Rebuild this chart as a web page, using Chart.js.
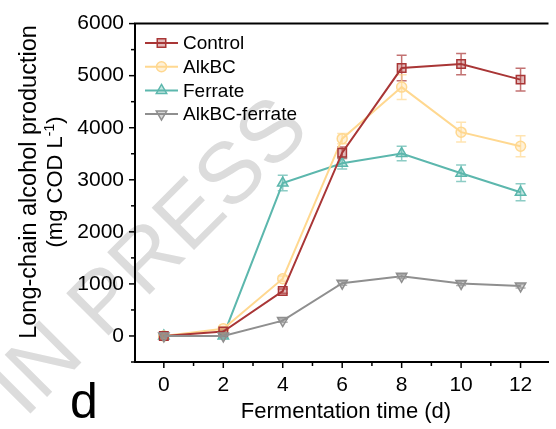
<!DOCTYPE html>
<html>
<head>
<meta charset="utf-8">
<script src="https://cdn.jsdelivr.net/npm/chart.js@4.4.0/dist/chart.umd.min.js"></script>
<style>
  html, body { margin: 0; padding: 0; background: #fff; }
  #wrap { width: 556px; height: 429px; position: relative; }
</style>
</head>
<body>
<div id="wrap"><canvas id="chart"></canvas></div>
<script>
// ===== data =====
const days = [0, 2, 4, 6, 8, 10, 12];
const xTickValues = [0, 2, 4, 6, 8, 10, 12];
const yTickValues = [0, 1000, 2000, 3000, 4000, 5000, 6000];

const seriesNames = ['Control', 'AlkBC', 'Ferrate', 'AlkBC-ferrate'];
const control = [0, 85, 862, 3520, 5146, 5222, 4924];
const controlErr = [20, 30, 40, 110, 246, 205, 220];
const alkbc = [0, 140, 1100, 3790, 4780, 3915, 3644];
const alkbcErr = [20, 30, 50, 100, 237, 190, 200];
const ferrate = [0, 0, 2937, 3317, 3504, 3125, 2760];
const ferrateErr = [20, 20, 150, 110, 140, 160, 165];
const alkbcFerrate = [0, 0, 295, 1013, 1145, 1010, 960];
const alkbcFerrateErr = [20, 20, 30, 40, 40, 40, 40];

const FONT = "'Liberation Sans', Arial, sans-serif";

function rgba(hex, a) {
  const n = parseInt(hex.slice(1), 16);
  return `rgba(${n >> 16},${(n >> 8) & 255},${n & 255},${a})`;
}

const styles = [
  { color: '#a93636', pointStyle: 'rect', radius: 6, rotation: 0, order: 1 },
  { color: '#ffd890', pointStyle: 'circle', radius: 5, rotation: 0, order: 2 },
  { color: '#5cb7ad', pointStyle: 'triangle', radius: 6, rotation: 0, order: 3 },
  { color: '#8f8f8f', pointStyle: 'triangle', radius: 6, rotation: 180, order: 0 },
];
const values = [control, alkbc, ferrate, alkbcFerrate];
const errors = [controlErr, alkbcErr, ferrateErr, alkbcFerrateErr];

const datasets = seriesNames.map((name, i) => {
  const s = styles[i];
  return {
    label: name,
    data: days.map((d, j) => ({ x: d, y: values[i][j] })),
    errors: errors[i],
    order: s.order,
    borderColor: s.color,
    backgroundColor: rgba(s.color, 0.35),
    borderWidth: 2,
    pointStyle: s.pointStyle,
    pointRadius: s.radius,
    pointRotation: s.rotation,
    pointBorderWidth: 1.5,
    pointBorderColor: s.color,
    pointBackgroundColor: rgba(s.color, 0.35),
    tension: 0,
    fill: false,
  };
});

// background watermark
const watermark = {
  id: 'watermark',
  beforeDraw(chart) {
    const ctx = chart.ctx;
    ctx.save();
    ctx.translate(312, 132);
    ctx.rotate(-Math.PI / 4);
    ctx.font = `87px ${FONT}`;
    ctx.fillStyle = '#dcdcdc';
    ctx.textAlign = 'right';
    ctx.textBaseline = 'alphabetic';
    ctx.fillText('ARTICLE IN PRESS', 0, 0);
    ctx.restore();
  }
};

// error bars under the markers
const errorBars = {
  id: 'errorBars',
  beforeDatasetsDraw(chart) {
    const { ctx, scales: { x, y } } = chart;
    ctx.save();
    chart.data.datasets.forEach((ds) => {
      ctx.strokeStyle = rgba(ds.borderColor, 0.7);
      ctx.lineWidth = 1.5;
      ds.data.forEach((p, j) => {
        const e = ds.errors[j];
        const px = x.getPixelForValue(p.x);
        const top = y.getPixelForValue(p.y + e);
        const bot = y.getPixelForValue(p.y - e);
        ctx.beginPath();
        ctx.moveTo(px, top); ctx.lineTo(px, bot);
        ctx.moveTo(px - 5, top); ctx.lineTo(px + 5, top);
        ctx.moveTo(px - 5, bot); ctx.lineTo(px + 5, bot);
        ctx.stroke();
      });
    });
    ctx.restore();
  }
};

// ticks, frame top, titles, legend, panel letter
const decorations = {
  id: 'decorations',
  afterDraw(chart) {
    const { ctx, chartArea: a, scales: { x, y } } = chart;
    ctx.save();
    ctx.strokeStyle = '#000';
    ctx.lineWidth = 2;
    // top frame line
    ctx.beginPath();
    ctx.moveTo(a.left - 1, a.top); ctx.lineTo(a.right, a.top);
    ctx.stroke();
    // x ticks (major at even, minor at odd)
    ctx.lineWidth = 1.5;
    for (let v = 0; v <= 12; v++) {
      const px = x.getPixelForValue(v);
      const len = v % 2 === 0 ? 6 : 4;
      ctx.beginPath();
      ctx.moveTo(px, a.bottom); ctx.lineTo(px, a.bottom + len);
      ctx.stroke();
    }
    // y ticks (major each 1000, minor each 500)
    for (let v = -500; v <= 6000; v += 500) {
      const py = y.getPixelForValue(v);
      const len = v % 1000 === 0 ? 6 : 4;
      ctx.beginPath();
      ctx.moveTo(a.left, py); ctx.lineTo(a.left - len, py);
      ctx.stroke();
    }

    ctx.fillStyle = '#000';
    // x title
    ctx.font = `22px ${FONT}`;
    ctx.textAlign = 'center';
    ctx.textBaseline = 'middle';
    ctx.fillText('Fermentation time (d)', 346, 412);

    // y title, two lines with superscript
    ctx.save();
    ctx.translate(0, 182);
    ctx.rotate(-Math.PI / 2);
    ctx.font = `23.5px ${FONT}`;
    ctx.textAlign = 'center';
    ctx.fillText('Long-chain alcohol production', 0, 30);
    const main = '(mg COD L', sup = '-1', end = ')';
    ctx.font = `22px ${FONT}`;
    const wMain = ctx.measureText(main).width;
    const wEnd = ctx.measureText(end).width;
    ctx.font = `14px ${FONT}`;
    const wSup = ctx.measureText(sup).width;
    const total = wMain + wSup + wEnd;
    let sx = -total / 2;
    ctx.textAlign = 'left';
    ctx.font = `22px ${FONT}`;
    ctx.fillText(main, sx, 56);
    sx += wMain;
    ctx.font = `14px ${FONT}`;
    ctx.fillText(sup, sx, 50);
    sx += wSup;
    ctx.font = `22px ${FONT}`;
    ctx.fillText(end, sx, 56);
    ctx.restore();

    // panel letter
    ctx.font = `50px ${FONT}`;
    ctx.textAlign = 'left';
    ctx.textBaseline = 'alphabetic';
    ctx.fillText('d', 70, 418);

    // legend
    const lx0 = 145, lx1 = 178, ly0 = 43, dy = 23.7;
    ctx.font = `19px ${FONT}`;
    ctx.textBaseline = 'middle';
    chart.data.datasets.forEach((ds, i) => {
      const ly = ly0 + i * dy;
      ctx.strokeStyle = ds.borderColor;
      ctx.lineWidth = 2;
      ctx.beginPath();
      ctx.moveTo(lx0, ly); ctx.lineTo(lx1, ly);
      ctx.stroke();
      ctx.fillStyle = ds.pointBackgroundColor;
      ctx.strokeStyle = ds.pointBorderColor;
      ctx.lineWidth = ds.pointBorderWidth;
      Chart.helpers.drawPoint(ctx, {
        pointStyle: ds.pointStyle, radius: ds.pointRadius,
        rotation: ds.pointRotation, borderWidth: ds.pointBorderWidth
      }, (lx0 + lx1) / 2, ly);
      ctx.fillStyle = '#000';
      ctx.fillText(ds.label, 183, ly + 1);
    });
    ctx.restore();
  }
};

new Chart(document.getElementById('chart'), {
  type: 'line',
  data: { datasets },
  options: {
    responsive: true,
    maintainAspectRatio: false,
    animation: false,
    layout: { padding: { top: 20, right: 0, bottom: 0, left: 0 } },
    plugins: { legend: { display: false }, tooltip: { enabled: false } },
    scales: {
      x: {
        type: 'linear',
        position: 'bottom',
        min: -0.97,
        max: 12.94,
        afterBuildTicks: s => { s.ticks = xTickValues.map(v => ({ value: v })); },
        afterFit: s => { s.height = 67; },
        grid: { display: false, drawTicks: false },
        border: { display: true, color: '#000', width: 2 },
        ticks: { color: '#000', padding: 11, maxRotation: 0, autoSkip: false,
                 font: { family: FONT, size: 21 }, callback: v => String(v) }
      },
      y: {
        type: 'linear',
        min: -500,
        max: 6000,
        afterBuildTicks: s => { s.ticks = yTickValues.map(v => ({ value: v })); },
        afterFit: s => { s.width = 135; },
        grid: { display: false, drawTicks: false },
        border: { display: true, color: '#000', width: 2 },
        ticks: { color: '#000', padding: 11, autoSkip: false,
                 font: { family: FONT, size: 21 }, callback: v => String(v) }
      }
    }
  },
  plugins: [watermark, errorBars, decorations]
});
</script>
</body>
</html>
